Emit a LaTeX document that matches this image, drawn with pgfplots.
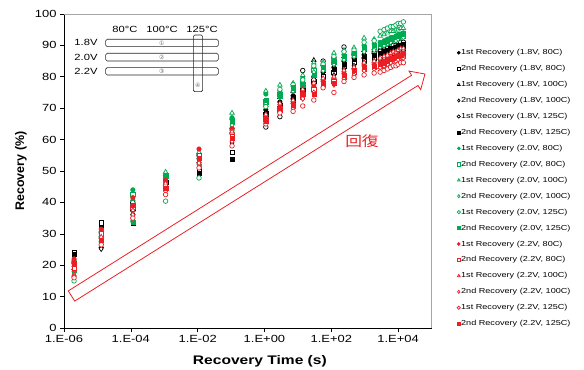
\documentclass[border=0pt]{standalone}
\usepackage{pgfplots}
\pgfplotsset{compat=1.18}
\usepackage{pgfplotstable}
\usepackage{fontspec}
\setmainfont{Liberation Sans}[FakeStretch=1.25]
\newfontfamily\ylabfont{Liberation Sans}
\newfontfamily\cjk{Noto Sans CJK JP}[FakeStretch=1.2]
\newfontfamily\circfont{DejaVu Sans}
\definecolor{grn}{RGB}{0,170,80}
\definecolor{rd}{RGB}{235,30,35}
\definecolor{frame}{RGB}{165,165,165}

\pgfplotstableread{
t       b1   b2   b3   b4   b5   b6   g1   g2   g3   g4   g5   g6   r1   r2   r3   r4   r5   r6
2e-6    20.5 24.0 19.0 18.0 21.0 23.5 21.5 19.5 20.0 17.5 15.0 18.5 22.0 19.0 17.0 16.5 16.0 20.5
1.3e-5  29.0 33.5 26.0 25.2 30.5 32.0 30.0 31.0 29.5 28.0 27.5 28.5 31.5 30.0 29.0 27.0 26.5 28.0
1.15e-4 39.5 38.0 36.5 35.0 40.0 33.5 44.0 42.5 41.0 36.0 34.0 33.8 41.5 38.5 37.5 36.0 35.0 39.0
1.1e-3  48.0 47.0 49.0 44.0 45.5 46.5 47.5 46.0 49.7 45.0 40.4 48.5 47.0 45.0 46.0 43.5 42.5 44.5
1.1e-2  54.0 50.5 53.0 52.0 55.0 49.4 55.5 54.5 56.0 53.5 47.8 51.5 57.0 55.0 53.0 52.5 51.0 54.0
0.107   66.5 56.0 64.0 59.0 62.0 53.8 67.0 65.5 68.5 64.5 63.0 66.0 63.5 61.0 62.5 59.5 58.0 60.5
1.1     69.5 68.0 71.0 67.0 64.0 68.5 74.5 72.0 75.5 71.5 70.5 72.5 67.5 66.5 68.0 65.5 65.0 66.0
2.9     72.0 70.0 73.5 69.5 67.3 71.0 75.5 74.5 77.4 73.5 76.0 74.0 70.5 69.5 71.5 69.0 68.5 70.0
7.2     74.0 72.5 75.5 71.5 73.0 73.5 77.0 76.0 78.0 75.5 77.5 76.5 71.5 70.5 72.5 70.0 69.0 71.0
14      77.0 75.5 78.0 74.5 82.0 76.0 79.5 78.5 80.5 78.0 79.0 77.5 75.0 73.5 76.0 73.0 70.7 74.5
30      80.0 78.5 85.3 77.5 79.0 81.0 83.0 82.0 84.5 81.5 83.5 80.5 77.0 76.0 78.0 75.0 72.6 74.5
57      81.5 80.0 84.0 79.0 85.0 82.0 83.5 82.5 84.5 82.0 84.0 83.0 78.5 77.5 79.5 77.0 76.5 78.0
120     83.0 81.5 84.5 80.5 86.0 82.5 85.5 84.5 87.6 84.0 86.5 85.0 79.5 78.5 80.0 77.5 75.0 78.0
240     85.0 83.5 86.5 82.5 89.5 84.0 87.0 86.0 88.5 85.5 88.0 86.5 81.0 80.0 82.0 79.5 78.5 80.5
480     86.0 84.5 88.0 83.5 87.0 85.5 88.0 87.0 89.3 86.5 88.5 87.5 82.5 81.5 83.0 80.5 79.8 82.0
960     87.0 85.0 88.5 84.5 86.0 86.5 90.0 89.0 92.4 88.0 91.0 89.5 83.5 82.5 84.5 82.0 80.6 83.0
1920    88.0 86.0 89.0 85.0 87.5 87.0 90.5 89.5 92.0 88.5 91.5 90.0 84.0 83.0 85.0 82.5 81.2 83.5
2900    88.5 86.5 83.0 85.5 88.0 87.5 91.0 90.0 93.0 89.5 94.5 90.5 84.5 83.5 86.0 83.0 81.5 84.0
3800    89.0 87.0 83.5 86.0 88.5 88.0 91.5 90.5 93.5 90.0 95.0 91.0 85.0 84.0 86.5 83.5 82.0 84.5
4800    89.0 87.5 84.5 86.5 89.0 88.5 92.0 91.0 94.0 90.5 95.5 91.5 85.5 84.5 87.0 84.0 82.5 85.0
6000    89.5 88.0 85.0 87.0 89.5 89.0 92.5 91.5 94.5 91.0 96.0 92.0 86.0 85.0 87.5 84.5 83.0 85.5
7200    90.0 88.0 86.0 87.5 90.0 89.0 92.5 92.0 94.5 91.5 96.0 92.5 86.0 85.5 88.0 85.0 83.5 86.0
8600    90.0 88.5 86.5 87.5 90.0 89.5 93.0 92.0 95.0 91.5 96.5 93.0 86.5 85.5 88.0 85.0 83.5 86.5
10000   90.5 88.5 87.0 88.0 90.5 90.0 93.5 92.5 95.0 92.0 97.0 93.0 87.0 86.0 88.5 85.5 84.0 86.5
12000   90.5 89.0 87.5 88.0 91.0 90.0 93.5 93.0 95.5 92.5 97.0 93.5 87.0 86.5 89.0 86.0 84.5 87.0
14400   91.0 89.0 88.0 88.5 91.0 90.5 94.0 93.0 95.5 92.5 97.5 94.0 87.5 86.5 89.0 86.0 84.5 87.5
}\data

\pgfplotsset{
  fc/.style={only marks, mark=*, mark size=2.3pt, color=#1},
  osq/.style={only marks, mark=square*, mark size=2.1pt, color=#1, mark options={fill=white, line width=0.7pt}},
  otr/.style={only marks, mark=triangle*, mark size=2.6pt, color=#1, mark options={fill=white, line width=0.7pt}},
  odi/.style={only marks, mark=diamond*, mark size=2.6pt, color=#1, mark options={fill=white, line width=0.7pt}},
  oci/.style={only marks, mark=*, mark size=2.3pt, color=#1, mark options={fill=white, line width=0.7pt}},
  fsq/.style={only marks, mark=square*, mark size=2.1pt, color=#1},
}

\begin{document}
\begin{tikzpicture}
\path[use as bounding box] (-64bp,-42bp) rectangle (520bp,328bp);
\begin{axis}[
  at={(0,0)}, anchor=south west,
  scale only axis, width=367.5bp, height=314bp,
  xmode=log, xmin=1e-6, xmax=1e5, ymin=0, ymax=100,
  clip=false,
  axis lines=left, axis line style={-, black, line width=0.6pt},
  tick align=outside, major tick length=4bp, tick style={black, line width=0.6pt},
  xtick={1e-6,1e-4,1e-2,1,1e2,1e4},
  xticklabels={1.E-06,1.E-04,1.E-02,1.E+00,1.E+02,1.E+04},
  xminorticks=false, yminorticks=false,
  ytick={0,10,...,100},
  /pgf/number format/assume math mode=true,
  tick label style={font=\fontsize{10.4}{12}\selectfont},
  xlabel={\bfseries Recovery Time (s)},
  ylabel={\ylabfont\bfseries Recovery (\%)},
  label style={font=\fontsize{12.5}{14}\selectfont},
  xlabel style={at={(axis description cs:0.533,-0.105)}, anchor=center},
  ylabel style={at={(axis description cs:-0.117,0.5)}, anchor=center},
  legend image code/.code={\draw[mark repeat=2,mark phase=2,#1] plot coordinates {(0bp,0bp) (3bp,0bp) (6bp,0bp)};},
  legend image post style={mark size=1.6pt},
  legend style={draw=none, fill=none, at={(1.0694,0.891)}, anchor=north west,
    font=\fontsize{7.3}{8}\selectfont, inner sep=0pt, row sep=7.34bp,
    nodes={inner sep=0.8bp, text height=5.5bp, text depth=1.5bp}},
  legend cell align=left,
]
\addplot[fc=black]  table[x=t,y=b1]{\data};
\addplot[osq=black] table[x=t,y=b2]{\data};
\addplot[otr=black] table[x=t,y=b3]{\data};
\addplot[odi=black] table[x=t,y=b4]{\data};
\addplot[oci=black] table[x=t,y=b5]{\data};
\addplot[fsq=black] table[x=t,y=b6]{\data};
\addplot[fc=grn]  table[x=t,y=g1]{\data};
\addplot[osq=grn] table[x=t,y=g2]{\data};
\addplot[otr=grn] table[x=t,y=g3]{\data};
\addplot[odi=grn] table[x=t,y=g4]{\data};
\addplot[oci=grn] table[x=t,y=g5]{\data};
\addplot[fsq=grn] table[x=t,y=g6]{\data};
\addplot[fc=rd]  table[x=t,y=r1]{\data};
\addplot[osq=rd] table[x=t,y=r2]{\data};
\addplot[otr=rd] table[x=t,y=r3]{\data};
\addplot[odi=rd] table[x=t,y=r4]{\data};
\addplot[oci=rd] table[x=t,y=r5]{\data};
\addplot[fsq=rd] table[x=t,y=r6]{\data};
\legend{{1st Recovery (1.8V, 80C)},{2nd Recovery (1.8V, 80C)},{1st Recovery (1.8V, 100C)},{2nd Recovery (1.8V, 100C)},{1st Recovery (1.8V, 125C)},{2nd Recovery (1.8V, 125C)},
{1st Recovery (2.0V, 80C)},{2nd Recovery (2.0V, 80C)},{1st Recovery (2.0V, 100C)},{2nd Recovery (2.0V, 100C)},{1st Recovery (2.0V, 125C)},{2nd Recovery (2.0V, 125C)},
{1st Recovery (2.2V, 80C)},{2nd Recovery (2.2V, 80C)},{1st Recovery (2.2V, 100C)},{2nd Recovery (2.2V, 100C)},{1st Recovery (2.2V, 125C)},{2nd Recovery (2.2V, 125C)}}
\draw[frame, line width=0.6pt] (rel axis cs:0,1) -- (rel axis cs:1,1) -- (rel axis cs:1,0);
\end{axis}
\begin{scope}[shift={(-64bp,328bp)}, x=1bp, y=-1bp]
  \draw[rd, line width=0.8pt, line join=miter] (68.3,290.9) -- (411.6,75.3) -- (409,71.1) -- (425,74) -- (420.7,89.7) -- (418,85.5) -- (74.7,301.1) -- cycle;
  \node[text=rd, font=\cjk\fontsize{14}{16}\selectfont, inner sep=0pt] at (362,141) {回復};
  \begin{scope}[font=\fontsize{9}{10}\selectfont, inner sep=0pt]
    \node at (125,29) {80°C};
    \node at (162,29) {100°C};
    \node at (202,29) {125°C};
    \node at (86,42.7) {1.8V};
    \node at (86,57.3) {2.0V};
    \node at (86,71) {2.2V};
  \end{scope}
  \begin{scope}[line width=0.6pt, draw=black!85, rounded corners=1.5bp]
    \draw (105.7,39.3) rectangle (218.3,46.7);
    \draw (105.7,53.3) rectangle (218.3,61);
    \draw (105.7,67.7) rectangle (218.3,75);
    \draw (193.3,35) rectangle (202.7,91.7);
  \end{scope}
  \begin{scope}[font=\circfont\fontsize{6}{7}\selectfont, text=black!60, inner sep=0pt]
    \node at (161.7,43.1) {①};
    \node at (161.7,57.2) {②};
    \node at (161.7,71.4) {③};
    \node at (197.9,85) {④};
  \end{scope}
\end{scope}
\end{tikzpicture}
\end{document}
